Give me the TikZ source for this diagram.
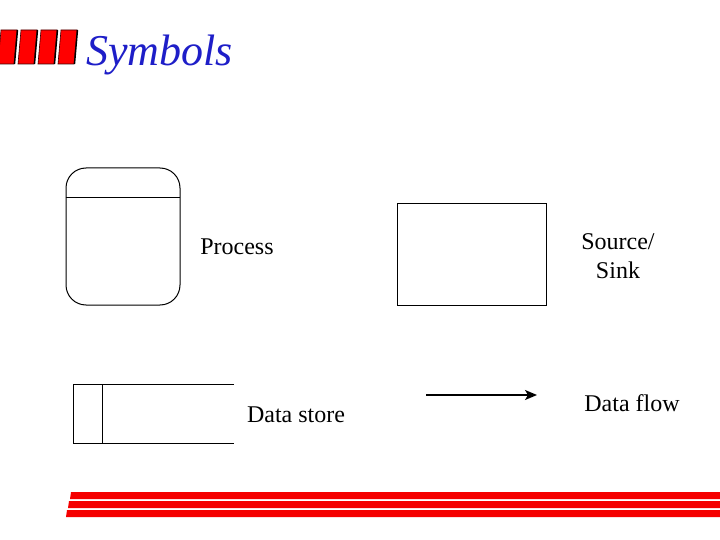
\documentclass[tikz,border=0pt]{standalone}
\usepackage{fontspec}
\setmainfont{Liberation Serif}
\usetikzlibrary{arrows.meta}
\definecolor{titleblue}{RGB}{30,30,200}
\definecolor{barred}{RGB}{245,0,0}
\definecolor{shade}{RGB}{60,0,0}
\begin{document}
\begin{tikzpicture}[x=1pt,y=-1pt,
  lbl/.style={font=\fontsize{24}{29}\selectfont, inner sep=0pt, align=center},
  symbox/.style={draw=black, line width=1pt}]
\useasboundingbox (0,0) rectangle (720,540);
\fill[white] (0,0) rectangle (720,540);
% title blocks
\foreach \x in {-2,18,38,58}{
  \fill[red, draw=shade, line width=0.6pt] (\x,64) -- (\x+16,64) -- (\x+19,30) -- (\x+3,30) -- cycle;
  \draw[shade, line width=1.4pt] (\x+16.5,64) -- (\x+19.5,30);
}
\node[anchor=base west, text=titleblue, font=\fontsize{44}{48}\selectfont\itshape, inner sep=0pt] (title) at (86,66) {Symbols};
% process
\node[symbox, rounded corners=20pt, minimum width=114pt, minimum height=137pt] (proc) at (123,236.5) {};
\draw[line width=1pt] (proc.north west) ++(0,30) -- ++(114,0);
\node[lbl] (proclbl) at (237,247) {Process};
% source/sink
\node[symbox, minimum width=149pt, minimum height=101pt] (src) at (471.5,254.5) {};
\node[lbl] (srclbl) at (618,256) {Source/\\Sink};
% data store
\coordinate (dsa) at (234,384);
\coordinate (dsb) at (73,384);
\coordinate (dsc) at (73,443);
\coordinate (dsd) at (234,443);
\draw[line width=1pt] (dsa) -- (dsb) -- (dsc) -- (dsd);
\draw[line width=1pt] (102,384) -- (102,443);
\node[lbl] (dslbl) at (296,415) {Data store};
% data flow
\coordinate (fa) at (426,395);
\coordinate (fb) at (537,395);
\draw[line width=1.6pt, -{Stealth[length=12pt,width=10pt,inset=3pt]}] (fa) -- (fb);
\node[lbl] (flbl) at (632,403) {Data flow};
% bottom bars
\fill[barred] (71,492) -- (720,492) -- (720,499) -- (70,499) -- cycle;
\fill[barred] (69,501) -- (720,501) -- (720,508) -- (68,508) -- cycle;
\fill[barred] (67,510) -- (720,510) -- (720,517) -- (66,517) -- cycle;
\end{tikzpicture}
\end{document}
